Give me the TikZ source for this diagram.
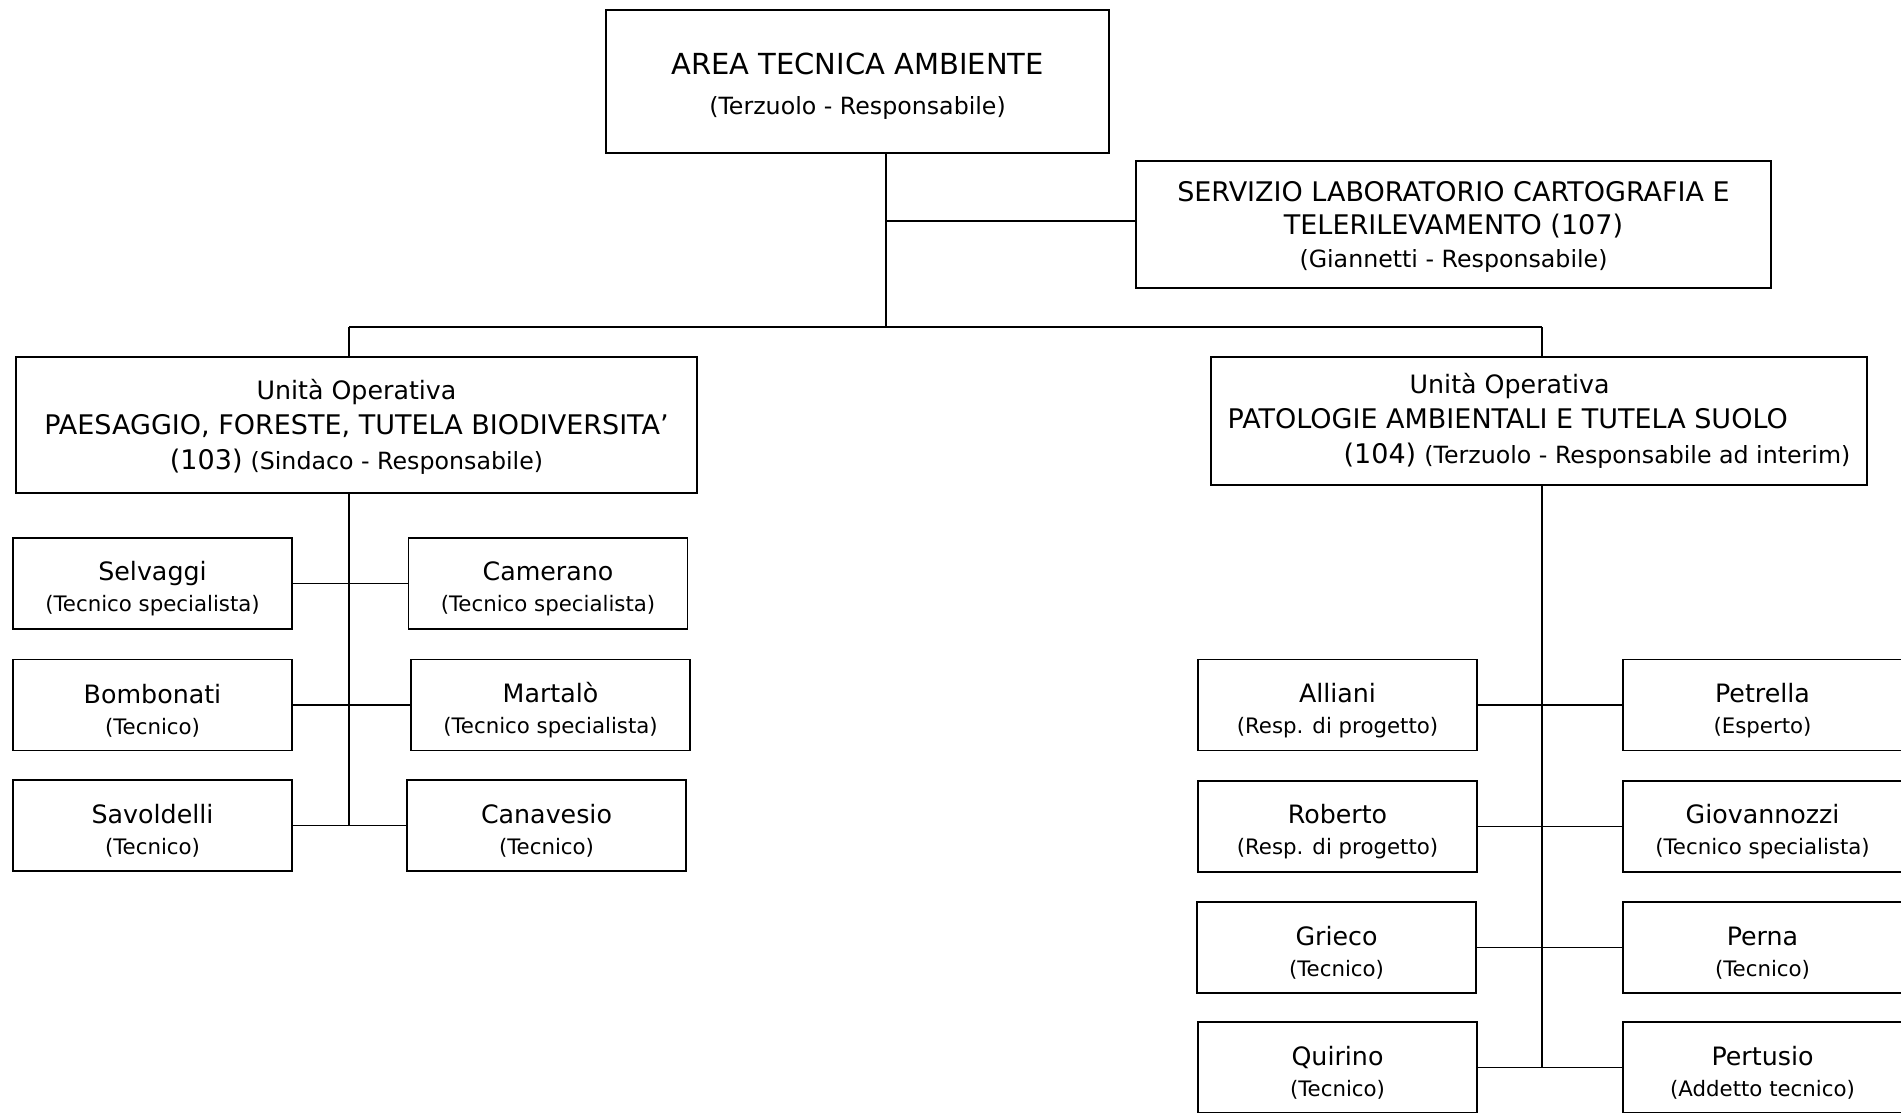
\documentclass[tikz,border=0pt]{standalone}
\usepackage{fontspec}
\setmainfont{DejaVu Sans}
\usetikzlibrary{positioning}

\newcommand{\titletxt}{\fontsize{29}{40}\selectfont}
\newcommand{\headtxt}{\fontsize{27}{33}\selectfont}
\newcommand{\bigtxt}{\fontsize{25.3}{35}\selectfont}
\newcommand{\midtxt}{\fontsize{23.7}{33}\selectfont}
\newcommand{\smalltxt}{\fontsize{21.3}{30}\selectfont}
\newcommand{\who}[2]{\rule{0pt}{30pt}#1\\{\smalltxt #2}}

\tikzset{
  unit/.style={draw, line width=1.5pt, align=center, inner sep=0pt, font=\bigtxt},
  person/.style={unit, minimum width=279pt, minimum height=91pt,
    font=\fontsize{25.3}{31}\selectfont},
  link/.style={line width=1.5pt}
}

\begin{document}
\begin{tikzpicture}[x=1pt, y=-1pt]
\useasboundingbox (0,0) rectangle (1901,1113);

\node[unit, minimum width=503pt, minimum height=143pt, font=\titletxt] (area) at (857.5,81.5)
  {\rule{0pt}{31pt}AREA TECNICA AMBIENTE\\{\midtxt (Terzuolo - Responsabile)}};
\node[unit, minimum width=635pt, minimum height=127pt, font=\headtxt] (serv) at (1453.5,224.5)
  {\rule{0pt}{25pt}SERVIZIO LABORATORIO CARTOGRAFIA E\\TELERILEVAMENTO (107)\\{\midtxt (Giannetti - Responsabile)}};
\node[unit, minimum width=681pt, minimum height=136pt] (uoL) at (356.5,425)
  {\rule{0pt}{23pt}Unità Operativa\\{\headtxt PAESAGGIO, FORESTE, TUTELA BIODIVERSITA’}\\{\headtxt (103)} {\midtxt (Sindaco - Responsabile)}};
\node[unit, align=left, minimum width=656pt, minimum height=128pt] (uoR) at (1539,421)
  {\hspace*{182pt}Unità Operativa\\{\headtxt PATOLOGIE AMBIENTALI E TUTELA SUOLO}\\\hspace*{116pt}{\headtxt (104)} {\midtxt (Terzuolo - Responsabile ad interim)}};

% left unit
\node[person] (selv) at (152.5,583.5) {\who{Selvaggi}{(Tecnico specialista)}};
\node[person] (bomb) at (152.5,705) {\who{Bombonati}{(Tecnico)}};
\node[person] (savo) at (152.5,825.5) {\who{Savoldelli}{(Tecnico)}};
\node[person] (came) at (548,583.5) {\who{Camerano}{(Tecnico specialista)}};
\node[person] (mart) at (550.5,705) {\who{Martalò}{(Tecnico specialista)}};
\node[person] (cana) at (546.5,825.5) {\who{Canavesio}{(Tecnico)}};

% right unit
\node[person] (alli) at (1337.5,705) {\who{Alliani}{(Resp. di progetto)}};
\node[person] (robe) at (1337.5,826.5) {\who{Roberto}{(Resp. di progetto)}};
\node[person] (grie) at (1336.5,947.5) {\who{Grieco}{(Tecnico)}};
\node[person] (quir) at (1337.5,1067.5) {\who{Quirino}{(Tecnico)}};
\node[person] (petr) at (1762.5,705) {\who{Petrella}{(Esperto)}};
\node[person] (giov) at (1762.5,826.5) {\who{Giovannozzi}{(Tecnico specialista)}};
\node[person] (pern) at (1762.5,947.5) {\who{Perna}{(Tecnico)}};
\node[person] (pert) at (1762.5,1067.5) {\who{Pertusio}{(Addetto tecnico)}};

\coordinate (hub) at (886,327);
\coordinate (branch) at (886,221);
\coordinate (dropL) at (349,327);
\coordinate (dropR) at (1542,327);

\draw[link] (hub |- area.south) -- (hub);
\draw[link] (branch) -- (branch -| serv.west);
\draw[link] (dropL) -- (dropR);
\draw[link] (dropL) -- (dropL |- uoL.north);
\draw[link] (dropR) -- (dropR |- uoR.north);

\draw[link] (dropL |- uoL.south) -- (dropL |- savo.east);
\draw[link] (selv.east) -- (came.west);
\draw[link] (bomb.east) -- (mart.west);
\draw[link] (savo.east) -- (cana.west);

\draw[link] (dropR |- uoR.south) -- (dropR |- quir.east);
\draw[link] (alli.east) -- (petr.west);
\draw[link] (robe.east) -- (giov.west);
\draw[link] (grie.east) -- (pern.west);
\draw[link] (quir.east) -- (pert.west);

\end{tikzpicture}
\end{document}
